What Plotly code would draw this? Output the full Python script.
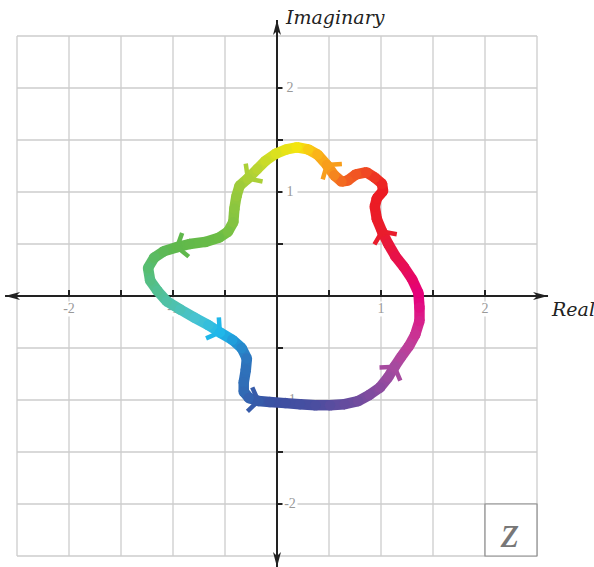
import numpy as np
import plotly.graph_objects as go

# Closed path of z in the complex plane, traversed counter-clockwise
path_re = [1.37, 1.36, 1.30, 1.22, 1.14, 1.07, 1.01, 0.96, 0.94, 0.96,
           1.02, 1.01, 0.94, 0.86, 0.76, 0.68, 0.62, 0.55, 0.48, 0.39,
           0.30, 0.19, 0.09, -0.01, -0.11, -0.19, -0.28, -0.36, -0.39, -0.41,
           -0.42, -0.47, -0.56, -0.69, -0.84, -0.96, -1.09, -1.18, -1.24, -1.22,
           -1.15, -1.06, -0.93, -0.79, -0.66, -0.55, -0.43, -0.34, -0.29, -0.30,
           -0.32, -0.32, -0.27, -0.18, -0.07, 0.08, 0.22, 0.37, 0.51, 0.65,
           0.78, 0.89, 0.99, 1.07, 1.13, 1.19, 1.27, 1.33, 1.37]
path_im = [-0.11, 0.03, 0.16, 0.28, 0.38, 0.50, 0.62, 0.74, 0.86, 0.94,
           1.01, 1.08, 1.14, 1.19, 1.17, 1.11, 1.10, 1.16, 1.26, 1.36,
           1.41, 1.43, 1.41, 1.37, 1.30, 1.22, 1.13, 1.06, 0.96, 0.84,
           0.71, 0.62, 0.56, 0.52, 0.50, 0.47, 0.43, 0.37, 0.27, 0.15,
           0.05, -0.05, -0.13, -0.21, -0.28, -0.35, -0.42, -0.50, -0.60, -0.71,
           -0.83, -0.92, -0.98, -1.01, -1.02, -1.03, -1.04, -1.05, -1.05, -1.04,
           -1.01, -0.95, -0.88, -0.78, -0.68, -0.59, -0.48, -0.37, -0.24]
# Path vertices that carry a direction chevron
arrow_idx = [6, 18, 26, 35, 45, 53, 64]

# Colour wheel keyed by the argument of z (degrees)
hue_angle = [0, 15, 32, 45, 58, 67, 75, 82, 90, 100, 115, 135, 155, 168,
             182, 195, 212, 228, 242, 255, 268, 288, 305, 318, 330, 342, 352, 360]
hue_color = ["#e5007d", "#e7104f", "#e91c2b", "#ec1c24", "#f15a22", "#f7941d",
             "#fbb917", "#f4e50e", "#dde21d", "#b5d334", "#8dc63f", "#6cbd45",
             "#5fb84c", "#57bd72", "#50c1a3", "#48c3d0", "#20b8ea", "#2196d6",
             "#2b7cc2", "#3461ae", "#3b50a2", "#484ea0", "#6a4c9e", "#8b4b9f",
             "#a94a9f", "#c43a97", "#dc1a88", "#e5007d"]

grid_vals = [-2.5, -2, -1.5, -1, -0.5, 0, 0.5, 1, 1.5, 2, 2.5]
tick_vals = [-2, -1.5, -1, -0.5, 0.5, 1, 1.5, 2]
label_vals = [-2, -1, 1, 2]
label_text = ["-2", "-1", "1", "2"]

PX = 104.0            # pixels per unit on both axes
W, H = 594, 567
ORIGIN = (277, 296)   # pixel position of 0 + 0i
AX_X = (-2.615, 2.606)
AX_Y = (-2.606, 2.654)

AXIS_COL = "#222222"
GRID_COL = "#cccccc"
LABEL_COL = "#999999"
SERIF = "Liberation Serif, serif"
TITLE_SERIF = "DejaVu Serif, serif"


def hex_rgb(h):
    return [int(h[i:i + 2], 16) for i in (1, 3, 5)]


stops = np.array([hex_rgb(c) for c in hue_color], dtype=float)


def colour_at(x, y):
    a = np.degrees(np.arctan2(y, x)) % 360
    rgb = [np.interp(a, hue_angle, stops[:, k]) for k in range(3)]
    return "rgb(%d,%d,%d)" % tuple(int(round(v)) for v in rgb)


fig = go.Figure()

# grid
gx, gy = [], []
for v in grid_vals:
    gx += [v, v, None]
    gy += [grid_vals[0], grid_vals[-1], None]
    gx += [grid_vals[0], grid_vals[-1], None]
    gy += [v, v, None]
fig.add_trace(go.Scatter(x=gx, y=gy, mode="lines", hoverinfo="skip",
                         line=dict(color=GRID_COL, width=1.3)))

# axes and tick marks
tick_len = 6 / PX
axx = [AX_X[0], AX_X[1], None, 0, 0, None]
axy = [0, 0, None, AX_Y[0], AX_Y[1], None]
for t in tick_vals:
    axx += [t, t, None, 0, tick_len, None]
    axy += [0, tick_len, None, t, t, None]
fig.add_trace(go.Scatter(x=axx, y=axy, mode="lines", hoverinfo="skip",
                         line=dict(color=AXIS_COL, width=2)))


def arrow_head(tip, d, length=15 / PX, half=4 / PX, notch=4 / PX):
    tip = np.array(tip, float)
    d = np.array(d, float)
    n = np.array([-d[1], d[0]])
    pts = [tip, tip - length * d + half * n, tip - (length - notch) * d,
           tip - length * d - half * n, tip]
    return [p[0] for p in pts], [p[1] for p in pts]


for tip, d in [((AX_X[1], 0), (1, 0)), ((AX_X[0], 0), (-1, 0)),
               ((0, AX_Y[1]), (0, 1)), ((0, AX_Y[0]), (0, -1))]:
    hx, hy = arrow_head(tip, d)
    fig.add_trace(go.Scatter(x=hx, y=hy, mode="lines", fill="toself",
                             fillcolor=AXIS_COL, line=dict(width=0, color=AXIS_COL),
                             hoverinfo="skip"))

# tick labels on white patches
lab_off = 13 / PX
fig.add_trace(go.Scatter(
    x=label_vals + [lab_off] * len(label_vals),
    y=[-lab_off] * len(label_vals) + label_vals,
    text=label_text + label_text, mode="markers+text",
    textposition="middle center",
    marker=dict(symbol="square", size=15, color="white", line=dict(width=0)),
    textfont=dict(family=SERIF, size=14, color=LABEL_COL),
    hoverinfo="skip", cliponaxis=False))

# the path, coloured segment by segment
re = list(path_re) + [path_re[0]]
im = list(path_im) + [path_im[0]]
for i in range(len(re) - 1):
    mx, my = (re[i] + re[i + 1]) / 2, (im[i] + im[i + 1]) / 2
    fig.add_trace(go.Scatter(x=[re[i], re[i + 1]], y=[im[i], im[i + 1]],
                             mode="lines", hoverinfo="skip",
                             line=dict(color=colour_at(mx, my), width=10.5)))
fig.add_trace(go.Scatter(
    x=path_re, y=path_im, mode="markers", hoverinfo="skip",
    marker=dict(size=10.5, color=[colour_at(a, b) for a, b in zip(path_re, path_im)],
                line=dict(width=0))))

# direction chevrons
arm = 15 / PX
spread = np.radians(55)
npts = len(path_re)
for k in arrow_idx:
    p = np.array([path_re[k], path_im[k]])
    d = np.array([path_re[(k + 1) % npts] - path_re[k - 1],
                  path_im[(k + 1) % npts] - path_im[k - 1]])
    d = d / np.hypot(*d)
    back = -d
    arms = []
    for s in (spread, -spread):
        c, sn = np.cos(s), np.sin(s)
        arms.append(p + arm * np.array([c * back[0] - sn * back[1],
                                        sn * back[0] + c * back[1]]))
    fig.add_trace(go.Scatter(
        x=[arms[0][0], p[0], arms[1][0]], y=[arms[0][1], p[1], arms[1][1]],
        mode="lines", hoverinfo="skip",
        line=dict(color=colour_at(*p), width=4.5)))

# variable box
fig.add_shape(type="rect", x0=2, x1=2.5, y0=-2.5, y1=-2,
              line=dict(color="#8c8c8c", width=1.2), fillcolor="white", layer="above")

fig.add_annotation(x=2.24, y=-2.26, text="z", showarrow=False,
                   font=dict(family=SERIF, size=46, color="#777777", style="italic"))
fig.add_annotation(x=(283 - ORIGIN[0]) / PX, y=(ORIGIN[1] - 17) / PX, text="Imaginary",
                   showarrow=False, xanchor="left", yanchor="middle",
                   font=dict(family=TITLE_SERIF, size=19, color="#222222", style="italic"))
fig.add_annotation(x=(549 - ORIGIN[0]) / PX, y=(ORIGIN[1] - 309) / PX, text="Real",
                   showarrow=False, xanchor="left", yanchor="middle",
                   font=dict(family=TITLE_SERIF, size=19, color="#222222", style="italic"))

fig.update_layout(
    width=W, height=H, margin=dict(l=0, r=0, t=0, b=0, pad=0),
    showlegend=False, paper_bgcolor="white", plot_bgcolor="white",
    xaxis=dict(range=[-ORIGIN[0] / PX, (W - ORIGIN[0]) / PX], visible=False,
               fixedrange=True),
    yaxis=dict(range=[(ORIGIN[1] - H) / PX, ORIGIN[1] / PX], visible=False,
               fixedrange=True),
)

fig.write_html("out.html")
